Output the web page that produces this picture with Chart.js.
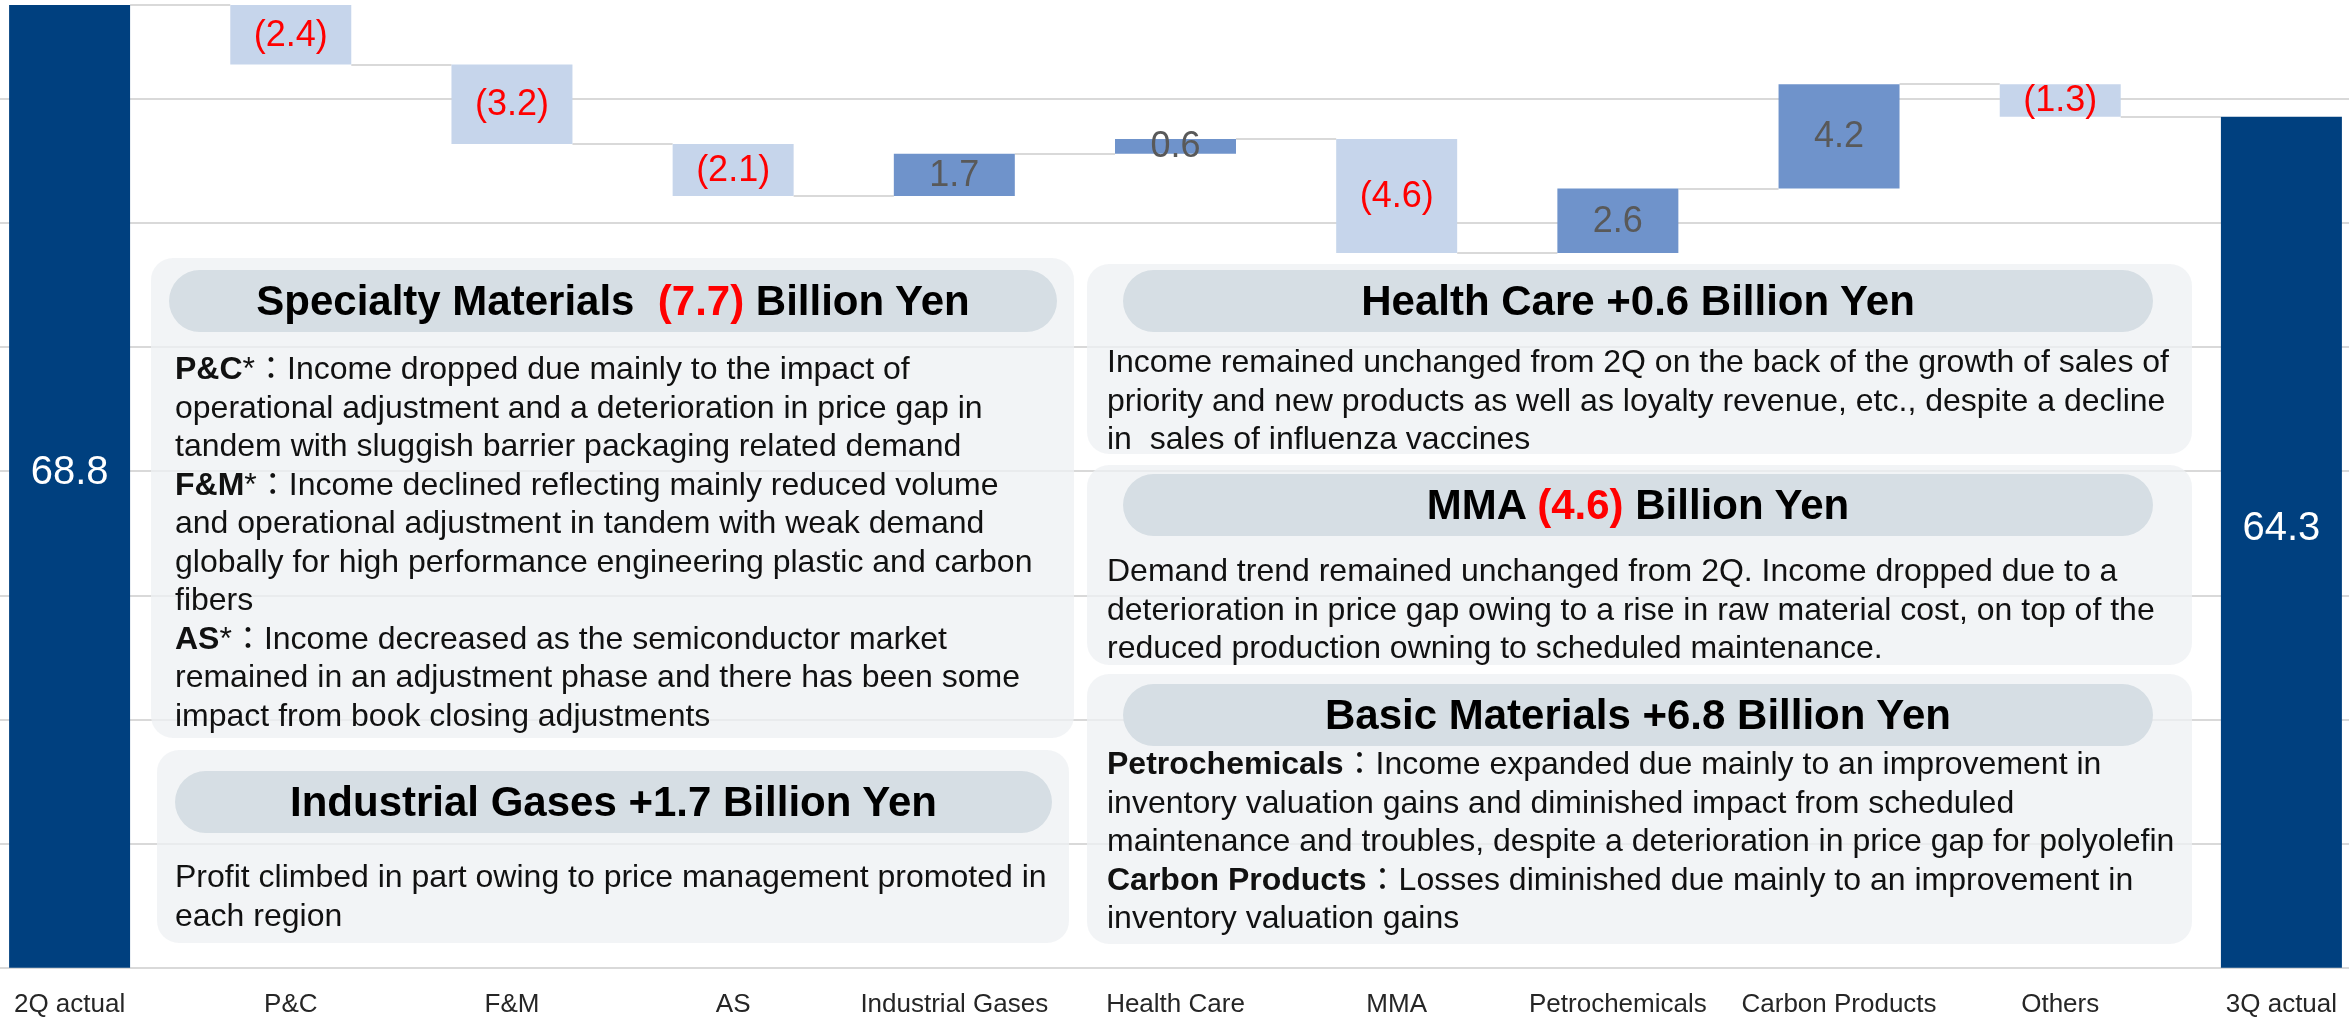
<!DOCTYPE html>
<html><head><meta charset="utf-8">
<script src="https://cdn.jsdelivr.net/npm/chart.js@4.4.1/dist/chart.umd.min.js"></script>
<style>
html,body{margin:0;padding:0;background:#fff;width:2349px;height:1017px;overflow:hidden;position:relative;font-family:"Liberation Sans",Arial,"Noto Sans CJK JP",sans-serif;}
#wrap{position:absolute;left:-41px;top:0;width:2433px;height:1041px;}
.box{position:absolute;background:rgba(238,240,243,0.75);border-radius:22px;}
.pill{position:absolute;background:#d6dee4;border-radius:31px;height:62px;line-height:62px;text-align:center;font-weight:bold;font-size:42px;color:#000;white-space:nowrap;}
.txt{position:absolute;font-size:32px;line-height:38.5px;color:#111;white-space:nowrap;}
.red{color:#ff0000;}
b{font-weight:bold;}
</style>
</head><body>
<div id="wrap"><canvas id="c" width="2433" height="1041"></canvas></div>

<div class="box" style="left:151px;top:258px;width:923px;height:480px;">
  <div class="pill" style="left:18px;top:12px;width:888px;">Specialty Materials&nbsp; <span class="red">(7.7)</span> Billion Yen</div>
  <div class="txt" style="left:24px;top:91px;"><b>P&amp;C</b>*：Income dropped due mainly to the impact of<br>operational adjustment and a deterioration in price gap in<br>tandem with sluggish barrier packaging related demand<br><b>F&amp;M</b>*：Income declined reflecting mainly reduced volume<br>and operational adjustment in tandem with weak demand<br>globally for high performance engineering plastic and carbon<br>fibers<br><b>AS</b>*：Income decreased as the semiconductor market<br>remained in an adjustment phase and there has been some<br>impact from book closing adjustments</div>
</div>

<div class="box" style="left:157px;top:750px;width:912px;height:193px;">
  <div class="pill" style="left:18px;top:21px;width:877px;">Industrial Gases +1.7 Billion Yen</div>
  <div class="txt" style="left:18px;top:107px;">Profit climbed in part owing to price management promoted in<br>each region</div>
</div>

<div class="box" style="left:1087px;top:264px;width:1105px;height:190px;">
  <div class="pill" style="left:36px;top:6px;width:1030px;">Health Care +0.6 Billion Yen</div>
  <div class="txt" style="left:20px;top:78px;">Income remained unchanged from 2Q on the back of the growth of sales of<br>priority and new products as well as loyalty revenue, etc., despite a decline<br>in&nbsp; sales of influenza vaccines</div>
</div>

<div class="box" style="left:1087px;top:465px;width:1105px;height:200px;">
  <div class="pill" style="left:36px;top:9px;width:1030px;">MMA <span class="red">(4.6)</span> Billion Yen</div>
  <div class="txt" style="left:20px;top:86px;">Demand trend remained unchanged from 2Q. Income dropped due to a<br>deterioration in price gap owing to a rise in raw material cost, on top of the<br>reduced production owning to scheduled maintenance.</div>
</div>

<div class="box" style="left:1087px;top:674px;width:1105px;height:270px;">
  <div class="pill" style="left:36px;top:10px;width:1030px;">Basic Materials +6.8 Billion Yen</div>
  <div class="txt" style="left:20px;top:70px;"><b>Petrochemicals</b>：Income expanded due mainly to an improvement in<br>inventory valuation gains and diminished impact from scheduled<br>maintenance and troubles, despite a deterioration in price gap for polyolefin<br><b>Carbon Products</b>：Losses diminished due mainly to an improvement in<br>inventory valuation gains</div>
</div>

<script>
const categories = ['2Q actual','P&C','F&M','AS','Industrial Gases','Health Care','MMA','Petrochemicals','Carbon Products','Others','3Q actual'];
const values = [68.8, -2.4, -3.2, -2.1, 1.7, 0.6, -4.6, 2.6, 4.2, -1.3, 64.3];
const isTotal = [true, false, false, false, false, false, false, false, false, false, true];
const yMin = 30, yMax = 69, yStep = 5;

const floating = [];
const levels = [];
let run = 0;
values.forEach((v, i) => {
  if (isTotal[i]) { floating.push([0, v]); run = v; }
  else { floating.push([run, +(run + v).toFixed(1)]); run = +(run + v).toFixed(1); }
  levels.push(run);
});
const colors = values.map((v, i) => isTotal[i] ? '#00407f' : (v < 0 ? '#c6d5eb' : '#6f93cb'));

const FONT = '"Liberation Sans", Arial, sans-serif';

const connectorPlugin = {
  id: 'connectors',
  beforeDatasetsDraw(chart) {
    const ctx = chart.ctx, meta = chart.getDatasetMeta(0), ys = chart.scales.y;
    ctx.save();
    ctx.strokeStyle = '#d9d9d9';
    ctx.lineWidth = 2;
    for (let i = 0; i < meta.data.length - 1; i++) {
      const a = meta.data[i], b = meta.data[i + 1];
      const yy = Math.round(ys.getPixelForValue(levels[i]));
      ctx.beginPath();
      ctx.moveTo(a.x + a.width / 2, yy);
      ctx.lineTo(b.x - b.width / 2, yy);
      ctx.stroke();
    }
    ctx.restore();
  }
};

const labelPlugin = {
  id: 'wfLabels',
  afterDatasetsDraw(chart) {
    const ctx = chart.ctx, meta = chart.getDatasetMeta(0), area = chart.chartArea;
    ctx.save();
    ctx.textAlign = 'center';
    ctx.textBaseline = 'middle';
    meta.data.forEach((bar, i) => {
      const v = values[i];
      const top = Math.min(bar.y, bar.base);
      const bot = Math.min(Math.max(bar.y, bar.base), area.bottom);
      let cy = (top + bot) / 2, text, color, size;
      if (isTotal[i]) { text = v.toFixed(1); color = '#ffffff'; size = 40; cy -= 14; }
      else if (v < 0) { text = '(' + Math.abs(v).toFixed(1) + ')'; color = '#ff0000'; size = 36; }
      else { text = v.toFixed(1); color = '#595959'; size = 36; }
      ctx.font = size + 'px ' + FONT;
      ctx.fillStyle = color;
      ctx.fillText(text, bar.x, cy + 1);
    });
    ctx.restore();
  }
};

new Chart(document.getElementById('c'), {
  type: 'bar',
  data: {
    labels: categories,
    datasets: [{
      data: floating,
      backgroundColor: colors,
      borderWidth: 0,
      categoryPercentage: 1,
      barPercentage: 0.547
    }]
  },
  options: {
    responsive: false,
    devicePixelRatio: 1,
    animation: false,
    layout: { padding: 0 },
    plugins: { legend: { display: false }, tooltip: { enabled: false } },
    scales: {
      x: {
        offset: true,
        grid: { display: false, drawTicks: false },
        border: { display: true, color: '#d9d9d9', width: 2 },
        ticks: { color: '#262626', font: { family: FONT, size: 26 }, padding: 21, maxRotation: 0, autoSkip: false }
      },
      y: {
        min: yMin, max: yMax,
        ticks: { display: false, stepSize: yStep },
        border: { display: false },
        grid: {
          drawTicks: false,
          lineWidth: 2,
          color: (c) => (c.tick && c.tick.value === yMax) ? 'rgba(0,0,0,0)' : '#d9d9d9'
        }
      }
    }
  },
  plugins: [connectorPlugin, labelPlugin]
});
</script>
</body></html>
